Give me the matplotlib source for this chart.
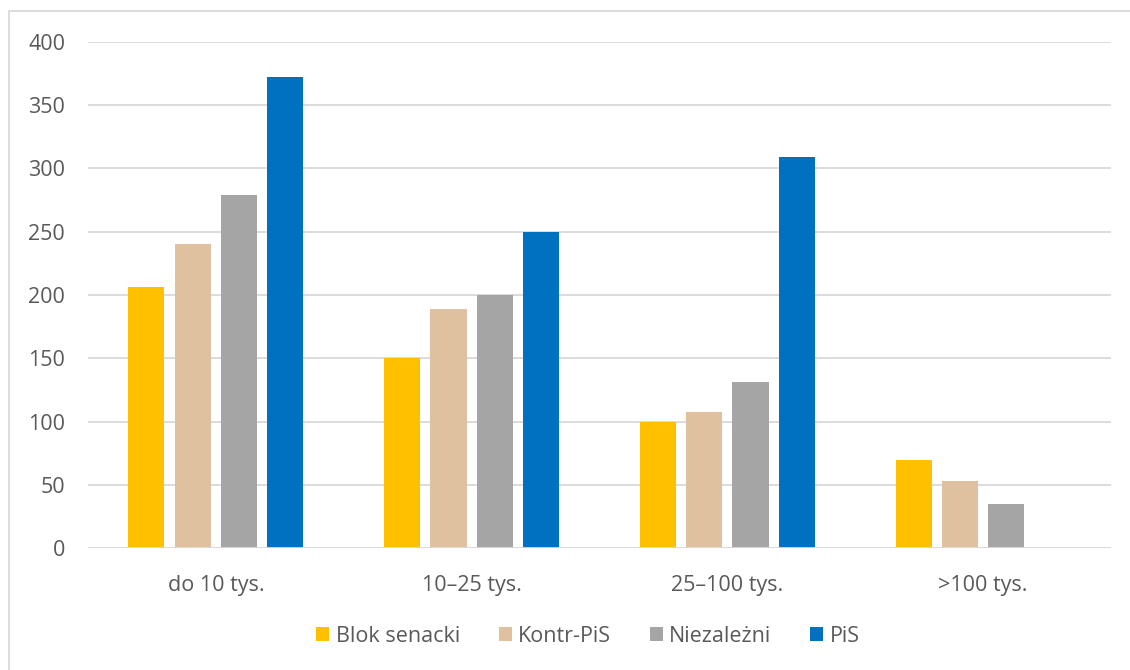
import numpy as np
import matplotlib.pyplot as plt
from matplotlib.patches import Rectangle

# Data
categories = ["do 10 tys.", "10–25 tys.", "25–100 tys.", ">100 tys."]
series = ["Blok senacki", "Kontr-PiS", "Niezależni", "PiS"]
blok = [206, 150, 100, 70]
kontr = [240, 189, 108, 53]
niezal = [279, 200, 131, 35]
pis = [372, 250, 309, 0]
values = [blok, kontr, niezal, pis]
colors = ["#FFC000", "#E0C19F", "#A5A5A5", "#0070C0"]
yticks = [0, 50, 100, 150, 200, 250, 300, 350, 400]

plt.rcParams["font.family"] = ["Open Sans", "DejaVu Sans"]
text_color = "#595959"

fig = plt.figure(figsize=(11.3, 6.7), dpi=100)
ax = fig.add_axes([88 / 1130, 1 - 548.3 / 670, (1111 - 88) / 1130, (548.3 - 41.7) / 670])

x = np.arange(len(categories))
pitch = 0.181
width = 0.141
for i, (name, vals, c) in enumerate(zip(series, values, colors)):
    ax.bar(x + (i - 1.5) * pitch, vals, width=width, color=c, label=name, zorder=3)

ax.set_xlim(-0.5, len(categories) - 0.5)
ax.set_ylim(0, 400)
ax.set_yticks(yticks)
ax.set_xticks(x)
ax.set_xticklabels(categories)
ax.grid(axis="y", color="#D9D9D9", linewidth=1.3, zorder=0)
for s in ax.spines.values():
    s.set_visible(False)
ax.axhline(0, color="#D9D9D9", linewidth=1.3, zorder=4)
ax.tick_params(axis="both", length=0, labelsize=15.5, colors=text_color)
ax.tick_params(axis="y", pad=16.5)
ax.tick_params(axis="x", pad=19)

leg = fig.legend(loc="center", bbox_to_anchor=(588 / 1130, 1 - 636 / 670), ncol=4,
                 frameon=False, fontsize=15.5, handlelength=0.6, handleheight=0.6,
                 handletextpad=0.3, columnspacing=1.8, labelcolor=text_color)

# outer chart border
fig.patches.append(Rectangle((9 / 1130, -0.1), 1.2, 1 - 11 / 670 + 0.1,
                             transform=fig.transFigure, fill=False,
                             edgecolor="#D9D9D9", linewidth=1.3))

fig.savefig("out.png", dpi=100)
